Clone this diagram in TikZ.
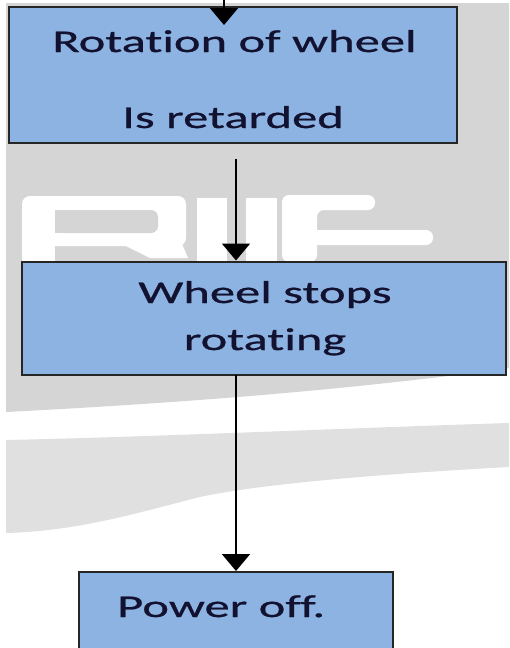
\documentclass[tikz,border=0pt]{standalone}
\usepackage{fontspec}
\newfontfamily\lblfont{Carlito}[FakeStretch=1.6,FakeBold=0.8,Ligatures=NoCommon]
\usetikzlibrary{arrows.meta}
\definecolor{boxblue}{HTML}{8DB3E2}
\definecolor{bgdark}{HTML}{D5D5D5}
\definecolor{bglight}{HTML}{E0E0E0}
\definecolor{txtcol}{HTML}{121230}
\tikzset{
  box/.style={draw=black!85, line width=1.6pt, fill=boxblue, inner sep=0pt, outer sep=0pt},
  lbl/.style={text=txtcol, inner sep=0pt, font=\lblfont\fontsize{31.6}{38}\selectfont},
  arr/.style={-{Triangle[width=28pt,length=17pt]}, line width=2pt, black},
  wmark/.style={fill=white}
}
\begin{document}
\begin{tikzpicture}[x=1pt,y=-1pt]
\useasboundingbox (0,0) rectangle (509,648);
\clip (0,0) rectangle (509,648);
% background
\fill[white] (0,0) rectangle (509,648);
\fill[bgdark] (6,3) -- (509,3) -- (509,368) -- (440,377)
  .. controls (330,390) and (200,402) .. (6,412) -- cycle;
\fill[bglight] (6,440) .. controls (150,437) and (350,428) .. (509,423)
  -- (509,467) .. controls (380,474) and (260,484) .. (200,497)
  .. controls (140,512) and (80,531) .. (6,533) -- cycle;
% watermark letters
\fill[wmark, rounded corners=8pt] (22,262) -- (22,196) -- (186,196) -- (186,246) -- (22,246) -- cycle;
\fill[wmark] (22,240) rectangle (55,262);
\fill[wmark] (122,244) -- (182,244) -- (188,258) -- (150,258) -- cycle;
\fill[bgdark, rounded corners=7pt] (55,210) -- (158,210) -- (158,233) -- (55,233) -- cycle;
\fill[bgdark] (55,210) rectangle (70,233);
\fill[wmark] (197,198) rectangle (227,262);
\fill[wmark] (246,198) rectangle (277,262);
\fill[wmark, rounded corners=7pt] (282,262) -- (282,195) -- (375,195) -- (375,210) -- (317,210) -- (317,262) -- cycle;
\fill[wmark, rounded corners=7pt] (310,230) -- (433,230) -- (433,245) -- (310,245) -- cycle;
% boxes
\node[box, minimum width=448pt, minimum height=136pt] (b1) at (233,75) {};
\node[box, minimum width=484pt, minimum height=113pt] (b2) at (264,318.5) {};
\node[box, minimum width=314pt, minimum height=90pt] (b3) at (236,617) {};
% labels
\node[lbl, anchor=base] (t1a) at (234.5,52) {Rotation of wheel};
\node[lbl, anchor=base] (t1b) at (233,128) {Is retarded};
\node[lbl, anchor=base] (t2a) at (265,303) {Wheel stops};
\node[lbl, anchor=base] (t2b) at (265,350) {rotating};
\node[lbl, anchor=base west] (t3) at (117,617) {Power off.};
% connectors
\coordinate (in1) at (224,0);
\coordinate (tip1) at (224,25);
\coordinate (s2) at (236,159);
\coordinate (x3) at (236,0);
\draw[arr] (in1) -- (tip1);
\draw[arr, shorten >=1.5pt] (s2) -- (b2.north -| s2);
\draw[arr, shorten >=1pt] (b2.south -| x3) -- (b3.north -| x3);
\end{tikzpicture}
\end{document}
